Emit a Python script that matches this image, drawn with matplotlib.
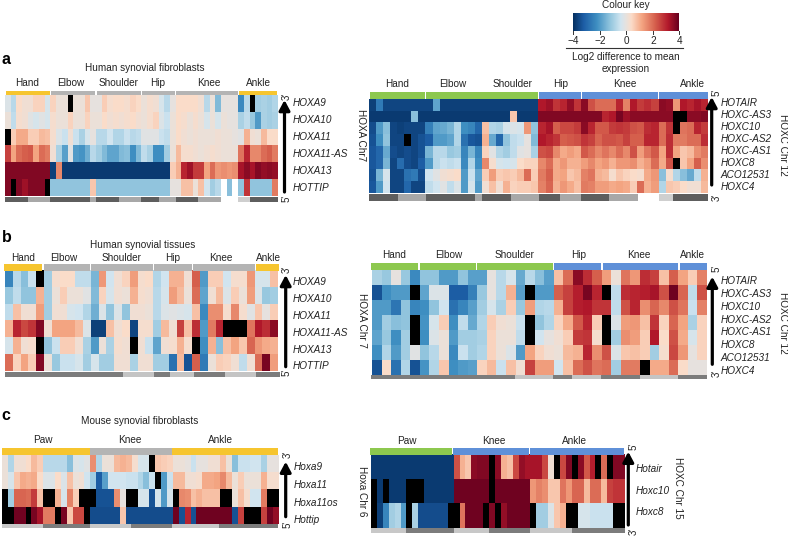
import numpy as np
import matplotlib
matplotlib.use("Agg")
import matplotlib.pyplot as plt
from matplotlib.colors import LinearSegmentedColormap

plt.rcParams['font.family'] = ['Liberation Sans', 'DejaVu Sans']

N = float('nan')
WHITE = 9  # empty cell, drawn white by the colormap "over" colour

# panel a, fibroblasts, HOXA
genes_a_left = ["HOXA9", "HOXA10", "HOXA11", "HOXA11-AS", "HOXA13", "HOTTIP"]
a_left = [
    [-.2,-.7,.4,.2,.2,.5,.5,-.3, .5,.1,.1,N,.1,.1,.7,0, 0,.6,.3,.4,.4,.3,.5,.4, .1,.3,.2,-.3,-.7,0, .4,.4,.4,.4,.2,-.7,.1,-1.4,0,0,0, -2.3,-.7,N,-1,-.9,-1,-.8],
    [.1,-.6,.3,.2,-.1,-.3,-.1,-.3, .3,.1,.1,.5,.1,.1,.5,.1, .1,.4,.2,.3,.2,.3,.4,.2, .1,.3,.5,-.2,-.5,.1, .4,.3,.1,.3,.1,-.3,.1,-.3,.1,0,0, -.9,-.6,-1.1,-2,-.9,-1,-.9],
    [N,.6,1.1,1.1,.6,.6,.9,.8, .3,-.2,-.5,.2,-.5,-.9,-.3,0, -.7,-.7,-.4,-.8,-.8,-.5,-.7,-.6, -.1,-.1,-.1,-.5,-.6,.1, .4,.2,.1,.2,.1,.1,.1,.2,.1,.1,0, -.1,1,.2,.1,.9,.4,.4],
    [2.6,1.2,2,2.2,2.3,1.2,2,1.8, .2,-.9,-1.9,-.1,-2,-2.1,-1.6,-.7, -1,-1.4,-1.8,-1.8,-1.4,-1.3,-2.2,-1.4, -.6,-.9,-2.2,-2.2,-1,.1, .9,.3,.3,.2,.1,.2,.3,.2,.1,.1,.1, 1.9,3,1.6,1.6,2,2.2,1.8],
    [3.7,3.7,3.7,3.7,3.7,3.7,3.7,3.7, -3.7,1.6,-3.8,-3.8,-3.8,-3.8,-3.8,-3.8, -3.8,-3.8,-3.8,-3.8,-3.8,-3.8,-3.8,-3.8, -3.8,-3.8,-3.8,-3.8,-3.8,.6, 1,3,3.4,2.7,2.7,1.2,2,1.4,1.5,1.4,1.5, 3.3,3.6,3.3,3.7,3.5,3.6,3.5],
    [3.7,N,3.7,3.4,3.7,3.7,3.7,N, -1.2,-1.2,-1.2,-1.2,-1.2,-1.2,-1.2,.7, -1.2,-1.2,-1.2,-1.2,-1.2,-1.2,-1.2,-1.2, -1.2,-1.2,-1.2,-1.2,-1.2,0, 0,.8,.8,.1,.8,-.4,-1,-.7,WHITE,-1.3,WHITE, -1.2,2.8,-1.2,-1.2,-1.2,-1.2,1.8],
]

# panel a, fibroblasts, HOXC
genes_a_right = ["HOTAIR", "HOXC-AS3", "HOXC10", "HOXC-AS2", "HOXC-AS1", "HOXC8", "ACO12531", "HOXC4"]
a_right = [
    [-3.7,-2.6,-3.6,-3.6,-3.6,-3.6,-3.6,-3.6, -3.6,-1.8,-3.7,-3.7,-3.7,-3.7,-3.7,-3.7, -3.7,-3.7,-3.7,-3.7,-3.7,-3.7,-3.7,-3.7, 3.2,3.4,2.8,3,3.5,2.8, 3.6,2.4,2,2,2,3,1.7,3.2,2.7,2.9,2.6, 3.6,3.5,1.4,3.2,3,3.3,3],
    [-3.8,-3.8,-3.8,-3.8,-3.8,-3.8,-1.3,-3.8, -3.8,-3.8,-3.8,-3.8,-3.8,-3.8,-3.8,-3.8, -3.8,-3.8,-3.8,-3.8,.7,-3.8,-3.8,-3.8, 3.7,3.7,3.7,3.7,3.7,3.7, 3.7,3.7,3.7,3,3.2,3.8,3.4,3.6,3.6,3.6,3.6, 3.6,3.6,N,N,3.6,3.6,3.7],
    [-3.5,-2,-1.3,-3.6,-3.7,-3.6,-3.6,-3.6, -2.5,-1.8,-1.7,-1.5,-.8,-2.2,-2.4,-3, .8,-.8,-.9,-.3,-.2,-.3,1.4,-1.2, 3,3.3,2.2,2.5,2.5,2.7, 3.6,3,2.3,2.3,2.7,2.8,2.7,2.4,2.3,2.9,3, 2,2.8,N,1.9,2,3,2.7],
    [-3.4,-2.2,-1.2,-3.6,-3.6,N,-3.6,-3.4, -3.2,-2,-2,-1.8,-.8,-2.8,-3.3,-3.4, 1,-1.7,-3,-1.2,-.6,-.5,0,-1.4, 3.2,3,2.8,2.2,2.3,2.4, 2.8,2.6,2.1,2.4,2.4,2.3,2.6,2.2,2.2,3,3, 2,2.9,1.8,1.8,2,2,2.9],
    [-3.3,-3,-1.7,-3.5,-3.6,-3.5,-3.6,-3.4, -1.5,-.7,-.7,-1.1,-1,-2.4,-1.5,-2.4, .5,-.1,-.8,-1,-.6,-.1,0,-.9, 2.4,2.5,1.6,1.1,1.3,1.1, 2.3,2,1.6,1.9,1.6,2,1.6,2.4,1.3,1.9,2.3, 1.2,2.9,1.2,.7,.9,1.5,1.8],
    [-3.3,-3,-1.5,-3.6,-2.9,-3.5,-3.6,-3.2, -2,-.7,-.5,-.6,-.5,-2.3,-.8,-2.2, 1.6,.3,-.3,-.4,-.3,.4,.5,.5, 1.6,2,1.1,1.4,1,1, 1.3,1.6,1.2,1.4,1,1.4,1.4,1.5,1,1.3,2, 1.1,2.4,N,.7,1.2,2.2,1.5],
    [-3.4,-1.5,-.3,-3.6,-3.6,-2.8,-2.6,-3.5, -.4,-.1,.2,.3,.4,-2,-.5,-1.8, .6,1.3,.6,.7,.6,.9,2,.6, 1.8,2.2,1.1,1.2,.7,.9, 1.7,1.9,1,.9,.3,.7,.5,.4,.3,1.1,1.4, -1.3,.3,-.8,-1.3,-1.7,-.6,1],
    [-3.3,-2,-.4,-3.6,-3.6,-3,-3.6,-3.6, -.6,-.4,-.1,-.6,-.2,-2,-.3,-2, .2,.8,.2,1,.5,.6,.6,.7, 1.7,2.1,1,1.4,1.1,.8, 1.8,1.7,1.3,1.3,1.1,1.2,1.1,.6,2,1,1.3, -.8,.7,.6,.4,.2,.2,.9],
]

# panel b, tissues, HOXA
genes_b_left = ["HOXA9", "HOXA10", "HOXA11", "HOXA11-AS", "HOXA13", "HOTTIP"]
b_left = [
    [-2.4,-.7,-1.3,-.5,N, -1,.3,.4,.4,-.6,-.6, -1.5,1.4,-.4,.2,.5,1.3,.3,.4, -.8,-.4,1,1,.2, 2.2,-2,.6,.6,-.4,.3,.3,1.4, -.3,-.3,.8],
    [-1.1,-.6,-1.2,-1.2,1, -1,.1,.6,.1,.1,-.1, -1.4,.5,-.3,.2,.1,1,.3,.2, -.7,-.3,1.3,.9,.1, 2,-1.8,.2,.9,-.2,.6,.1,1.3, -.2,-1.1,-1],
    [-.6,.8,.2,.2,1.3, -1,.2,.2,-.3,-.4,-.8, -1.6,-.2,-1.2,-.2,-1.2,.2,.2,.1, -.7,-.2,-.1,-.2,-.3, .8,-2.3,1.5,1.5,.3,1.6,.3,-.1, .7,0,.6],
    [1,3,2.5,2.8,3.7, .2,1.2,1.2,1.2,.9,-.2, -3.7,-3.7,.8,.2,.4,-3.6,.3,.3, -1,.9,.2,2.6,.8, 2.9,-2,1.8,3,N,N,N,1.9, 3.2,2.9,3.6],
    [-.3,1,.2,.3,N, -1.2,-.5,.6,.6,.2,-.9, -2,.1,-.9,.3,.2,N,.2,-.5, -1.8,.2,.3,1,.3, N,-2.2,1,-1.3,.8,1.2,.7,2.1, 1.4,1.1,1],
    [2,.5,1.2,.6,3.7, .1,-1.1,-.5,-.5,-.3,-1, -.3,-1,-1,.2,.2,-.9,.2,.2, -1,-1,-2.8,.9,-3.4, 2.2,-2.6,.1,.6,.5,.2,-.6,.2, 2,3.8,1.3],
]

# panel b, tissues, HOXC (seven rows of colour, eight labels in the original)
genes_b_right = ["HOTAIR", "HOXC-AS3", "HOXC10", "HOXC-AS2", "HOXC-AS1", "HOXC8", "ACO12531", "HOXC4"]
b_right = [
    [-.9,-1.1,0,-1.1,-2.3, -1.2,-1.2,-2,-2,-1.2,-1.9, -1.9,0,-.7,-.3,-1.7,-.7,-1.3,-1.9, .8,2,3.6,2.9,2.2, 1.3,.1,1.9,1.4,2.9,2.6,.8,2.2, 1.2,.6,1.7],
    [-3.4,-2.2,-2,-2,N, -1.8,-.2,-.2,-3.2,-3.2,-2.5, -1.1,0,-.7,1,-1.9,N,-2,-2, 2.2,2.6,3.1,3.8,3, N,-.6,2.9,3,3.1,3.3,2.4,3.9, 2.1,-.6,2.4],
    [-2,-2,-2.7,-1.2,-2.4, -2.2,-1.2,-.4,-2.8,-2.4,-1.9, -1,-.3,-.9,.6,-1.1,1.3,-.8,-.7, 1,2.6,3.1,3.2,2.8, 2.8,-.6,2.4,3,1.5,2.1,1.6,2.4, 1.9,-.5,1.7],
    [-2,-1,-1.3,-1.2,N, -2.1,-.3,.6,-2.2,-.6,-1.7, -.8,.6,.2,.1,-.5,N,-1.2,-.8, .5,1.1,2.3,3,.6, N,-.2,1.3,1.4,.8,2.8,.5,2.1, 1.2,-.9,.5],
    [-1.8,-1.1,-2.2,-1,N, -2.2,-.2,.1,-2,-1,-1, -.9,.5,.1,.1,-.6,N,-.4,0, .2,.6,2.7,2.8,.3, N,-1,1.5,1.3,.6,3.2,.4,2.4, 1.1,-.3,.5],
    [-2.2,-.8,-2,-1,-.1, -1.2,-.7,.1,-2.3,-.5,-1, -.8,.5,.1,-.2,-2,1.2,.5,.2, .1,.9,1,3,1.5, 2.4,-.2,.7,.8,.6,-1,.3,2.5, 1.4,0,.5],
    [-3.4,.4,-2.8,-.8,-3.4, -2.1,-.8,.7,-2.2,-2,-1.9, .5,.9,-.5,.8,.2,2.6,1.3,1.3, -.4,.8,2,2.4,1.9, 2,-1,1.8,1.8,N,1.1,1.1,2, .4,0,0],
]

# panel c, mouse, Hoxa
genes_c_left = ["Hoxa9", "Hoxa11", "Hoxa11os", "Hottip"]
c_left = [
    [.1,-.8,.2,.2,.4,.9,.6,-.7,-.7,-.7,-.7,-1.3,-.2,-.3,-.1, 1.5,-.8,.1,.1,.9,1,.9,.3,-.3,-.3,N,.7,.6,.5, .1,.1,0,-.5,0,0,.2,.2,.8,.1,-1.3,-.5,-.5,-.4,-.4,-.9,0,0],
    [.1,-.3,.7,1.1,1,1.1,.4,-.2,-.2,.4,-.2,.8,.1,.2,-.4, -1,-3.2,-1.9,-.4,-.4,-.4,-.5,-.5,-.8,-1.3,-.5,N,-2,-.5, .9,.9,.2,.2,.3,1.1,1.1,1.2,1.6,.9,.1,.6,.1,.1,.1,1,.3,.3],
    [N,-1,2.1,2.1,2,2.7,.8,N,N,1,-.3,1.7,.6,N,N, N,-3.4,-3.4,-3.4,1.5,0,N,N,-.3,-.3,-3.4,-.3,-2,-.3, N,1.6,1.5,.8,1,.8,.8,.8,N,N,.1,.8,.3,-.4,-.4,1.8,N,N],
    [N,N,3.9,3.9,N,3.8,3.3,1.8,1.8,N,3.8,.7,2.5,2.5,N, -3.5,-3.5,-3.5,-3.5,-3.5,.7,-3.5,-3.5,-3.5,-3.5,-3.5,-3.5,-3.5,-3.5, 3.9,-3.4,3,-3.4,3.9,3.9,3.9,3.9,3.9,3.9,-3.4,2.6,N,N,N,2.6,3.9,3.5],
]

# panel c, mouse, Hoxc
genes_c_right = ["Hotair", "Hoxc10", "Hoxc8"]
c_right = [
    [-3.8,-3.8,-3.8,-3.8,-3.8,-3.8,-3.8,-3.8,-3.8,-3.8,-3.8,-3.8,-3.8,-3.8, 2.4,1,.7,3.6,3.7,3.7,N,3.6,1,.8,2.5,3.5,3.3, 3.3,3.3,2.5,.2,N,2.5,3.7,N,3.6,2.3,3.1,N,2,N,3.7,3.7],
    [N,-3.8,N,-3.8,-3.8,-3.8,N,N,N,-3.8,-3.8,-3.8,-3.8,-3.8, 3.9,3.9,3.9,3.9,3.9,3.9,N,3.9,3.9,3.9,3.9,3.9,3.9, 1.4,1.7,1.5,.7,.7,1.9,1.4,2.1,2.1,.9,2,2,.9,2.6,2.8,2.8],
    [N,-3.7,-2.4,-1,-.8,-2,N,-.9,-3.5,-3.5,-3.5,-3.5,-3.5,N, N,1.9,3.9,3.9,3.9,N,3.7,N,3.5,3.9,3.9,3.9,3.9, N,-1,-1,-.2,.7,1,N,N,-.3,-.3,-.5,-.5,-.5,-.5,N,N],
]

# group sizes in columns, and their strip colours
Y, G, GR, BL = '#f6c52f', '#b4b4b4', '#8dc84f', '#5f90d8'
groups_a = ["Hand", "Elbow", "Shoulder", "Hip", "Knee", "Ankle"]
sizes_a = [8, 8, 8, 6, 11, 7]
sizes_a_r = [8, 16, 6, 11, 7]
bottom_a = [4, 4, 7, 1, 4, 4, 3, 3, 4, 4, 3, 2, 5]
D1, L1 = '#5e5e5e', '#a8a8a8'
bottom_a_col = [D1, L1, D1, L1, D1, L1, D1, L1, D1, L1, 'white', '#cfcfcf', D1]

sizes_b = [5, 6, 8, 5, 8, 3]
bottom_b = [15, 4, 2, 3, 4, 4, 3]
D2, L2 = '#7c7c7c', '#c4c4c4'
bottom_b_col = [D2, L2, D2, L2, D2, L2, D2]

groups_c = ["Paw", "Knee", "Ankle"]
sizes_c = [15, 14, 18]
sizes_c_r = [14, 13, 16]
bottom_c = [7, 8, 7, 7, 8, 10]
bottom_c_r = [6, 8, 6, 7, 7, 9]
bottom_c_col = ['#c8c8c8', D2, '#c8c8c8', D2, '#c8c8c8', D2]

key_ticks = [-4, -2, 0, 2, 4]

# colour ramp pulled in near zero, the pale steps sit close to the middle grey
ramp = [(-4, '#053061'), (-3.2, '#1d5ea6'), (-2.2, '#3f8fc2'), (-1.2, '#92c5de'), (-.4, '#d1e5f0'),
        (0, '#e6e2df'), (.4, '#fbdcc9'), (1.2, '#f4a582'), (2.2, '#d6604d'), (3.2, '#b2182b'), (4, '#67001f')]
cmap = LinearSegmentedColormap.from_list("key", [((v + 4) / 8, c) for v, c in ramp])
cmap.set_bad('black')
cmap.set_over('white')

fig = plt.figure(figsize=(7.88, 5.36), dpi=100)
ax = fig.add_axes([0, 0, 1, 1])  # whole figure, pixel coordinates
TXT = '#222222'
FS = 7.2


def heat(m, x0, x1, y0, y1):
    ax.imshow(np.array(m, dtype=float), extent=(x0, x1, y1, y0), aspect='auto', cmap=cmap,
              vmin=-4, vmax=4, interpolation='nearest')


def strip(sizes, cols, x0, x1, y0, y1, gap=0.0):
    per = (x1 - x0) / sum(sizes)
    lefts = x0 + np.concatenate([[0], np.cumsum(sizes)[:-1]]) * per
    ax.barh((y0 + y1) / 2, np.array(sizes) * per - gap, left=lefts + gap / 2, height=y1 - y0,
            color=cols, linewidth=0)


def genes(names, x, ys):
    for n, y in zip(names, ys):
        ax.text(x, y, n, style='italic', fontsize=FS, va='center', ha='left', color=TXT)


def labels(names, xs, y):
    for n, x in zip(names, xs):
        ax.text(x, y, n, fontsize=FS, va='center', ha='center', color=TXT)


def arrow(x, y_bottom, y_top):
    ax.annotate('', xy=(x, y_top), xytext=(x, y_bottom),
                arrowprops=dict(arrowstyle='-|>,head_width=0.32,head_length=0.6', lw=2.3, color='black',
                                shrinkA=0, shrinkB=0))


def ends(x, y_a, txt_a, y_b, txt_b):
    ax.text(x, y_a, txt_a, rotation=90, fontsize=7, ha='center', va='center', color=TXT)
    ax.text(x, y_b, txt_b, rotation=90, fontsize=7, ha='center', va='center', color=TXT)


def side(x, y, txt):
    ax.text(x, y, txt, rotation=270, fontsize=FS, ha='center', va='center', color=TXT)


# panel letters and titles
for t, y in zip("abc", [60, 237, 415]):
    ax.text(1.5, y, t, fontsize=11.5, fontweight='bold', va='center', ha='left', color='black')
ax.text(145, 67.7, "Human synovial fibroblasts", fontsize=FS, ha='center', va='center', color=TXT)
ax.text(142.3, 245, "Human synovial tissues", fontsize=FS, ha='center', va='center', color=TXT)
ax.text(140, 421, "Mouse synovial fibroblasts", fontsize=FS, ha='center', va='center', color=TXT)

# a left
heat(a_left, 5, 278, 95, 196)
strip(sizes_a, [Y, G, G, G, G, Y], 5, 278, 90.7, 95, gap=1.2)
strip(bottom_a, bottom_a_col, 5, 278, 196.7, 201.7)
labels(groups_a, [27, 71, 119, 158, 209, 258], 83)
genes(genes_a_left, 292.7, [103.3, 120, 137.3, 154, 171, 188])
arrow(284.5, 192, 100)
ends(287, 96, "3'", 198, "5'")

# a right
heat(a_right, 369.3, 708.3, 98.7, 192.7)
strip(sizes_a_r, [GR, GR, BL, BL, BL], 369.3, 708.3, 92.3, 98.7, gap=1.2)
strip(bottom_a, bottom_a_col, 369.3, 708.3, 194.3, 200.7)
labels(groups_a, [396.7, 453, 512.7, 561, 624.5, 692.7], 84)
genes(genes_a_right, 720.7, [103.3, 115, 127.3, 139, 150.7, 163.3, 175, 186.7])
arrow(711.7, 185, 97)
ends(716.7, 92, "5'", 197, "3'")
side(783, 145, "HOXC Chr 12")
side(360.7, 135, "HOXA Chr7")

# b left
heat(b_left, 5, 278, 270.7, 371)
strip(sizes_b, [Y, G, G, G, G, Y], 3.5, 279.5, 264.3, 270.7, gap=1.2)
strip(bottom_b, bottom_b_col, 5, 280, 371.7, 376.7)
labels(groups_a, [22.7, 64, 121.7, 172.3, 221, 268.3], 258.3)
genes(genes_b_left, 293, [281.7, 299, 315.7, 332.7, 349.7, 366.3])
arrow(285.7, 366.7, 275)
ends(287, 269.3, "3'", 372.7, "5'")

# b right
heat(b_right, 371.7, 706.7, 270, 375)
strip(sizes_b, [GR, GR, GR, BL, BL, BL], 370.7, 707.7, 263.3, 270, gap=1.5)
strip(bottom_b, bottom_b_col, 371, 706.7, 375, 379)
labels(groups_a, [394.3, 449, 515, 578.3, 639.3, 692.7], 255)
genes(genes_b_right, 720.7, [280.7, 293.7, 306.7, 319.7, 332.3, 345, 358, 371])
arrow(712.3, 364.3, 276.7)
ends(717, 268.3, "5'", 373.3, "3'")
side(783.3, 323.3, "HOXC Chr 12")
side(361.7, 320, "HOXA Chr 7")

# c left
heat(c_left, 1.7, 278, 455, 524)
strip(sizes_c, [Y, G, Y], 1.7, 278, 448.3, 455)
strip(bottom_c, bottom_c_col, 1.7, 278, 524, 528.3)
labels(groups_c, [42.7, 130, 220], 440)
genes(genes_c_left, 294, [467.3, 485, 502.7, 520])
arrow(285.7, 516.7, 461.7)
ends(288, 454, "3'", 524, "5'")

# c right
heat(c_right, 371, 625, 455, 528.3)
strip(sizes_c_r, [GR, BL, BL], 370, 624.5, 448.3, 455, gap=0.8)
strip(bottom_c_r, bottom_c_col, 371, 625, 528.3, 533.3)
labels(groups_c, [406.7, 494, 574.3], 440.7)
genes(genes_c_right, 635.7, [469.3, 491, 512.3])
arrow(628.3, 525, 451.7)
ends(633.3, 446.7, "5'", 531, "3'")
side(678.3, 488.3, "HOXC Chr 15")
side(361.7, 491.7, "Hoxa Chr 6")

# colour key
ax.imshow(np.linspace(-4, 4, 256).reshape(1, -1), extent=(573.3, 679.3, 30.7, 12.7), aspect='auto',
          cmap=cmap, vmin=-4, vmax=4)
ax.plot([566, 682.7], [48, 48], color='#333333', lw=0.8)
for v in key_ticks:
    x = 573.3 + (v + 4) / 8 * 106
    ax.plot([x, x], [30.7, 33.5], color='#333333', lw=0.7)
    ax.text(x, 40.7, str(v).replace('-', '\u2212'), fontsize=FS, ha='center', va='center', color=TXT)
ax.text(625.7, 5, "Colour key", fontsize=FS, ha='center', va='center', color=TXT)
ax.text(625.7, 57, "Log2 difference to mean", fontsize=FS, ha='center', va='center', color=TXT)
ax.text(625.7, 69, "expression", fontsize=FS, ha='center', va='center', color=TXT)

ax.set_xlim(0, 788)
ax.set_ylim(536, 0)
ax.axis('off')
fig.savefig("out.png", dpi=100)
